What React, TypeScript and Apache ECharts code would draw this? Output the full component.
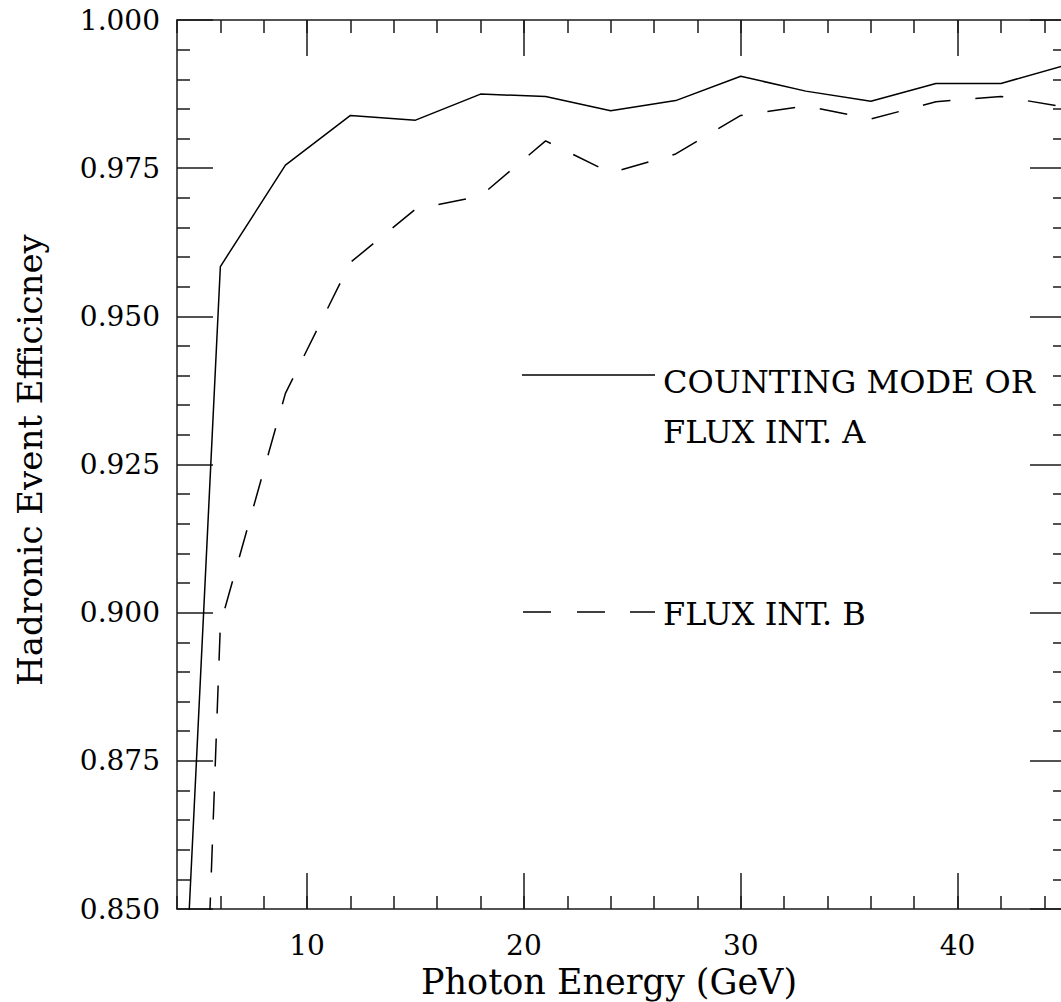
import React, { useEffect, useRef } from 'react';
import * as echarts from 'echarts';

// Photon energy (GeV) sample points
const energies = [3, 6, 9, 12, 15, 18, 21, 24, 27, 30, 33, 36, 39, 42, 45];
// Solid curve: COUNTING MODE OR FLUX INT. A
const countingModeA = [0.7316, 0.9584, 0.9755, 0.9839, 0.9831, 0.9875, 0.9871, 0.9847, 0.9864, 0.9905, 0.988, 0.9863, 0.9893, 0.9893, 0.9924];
// Dashed curve: FLUX INT. B
const fluxIntB = [0.597, 0.898, 0.937, 0.9591, 0.9681, 0.9703, 0.9796, 0.9742, 0.9774, 0.9839, 0.9855, 0.9833, 0.9862, 0.9871, 0.9853];

const xMajorTicks = [10, 20, 30, 40];
const xLabels = ['10', '20', '30', '40'];

const xTitle = 'Photon Energy (GeV)';
const yTitle = 'Hadronic Event Efficicney';
const legendA1 = 'COUNTING MODE OR';
const legendA2 = 'FLUX INT. A';
const legendB = 'FLUX INT. B';

export default function App() {
  const ref = useRef<HTMLDivElement>(null);
  useEffect(() => {
    const chart = echarts.init(ref.current as HTMLDivElement, null, { renderer: 'svg' });
    const axisColor = '#1a1a1a';
    const font = '"DejaVu Serif", serif';
    const lw = 1.5;
    const xBase = { type: 'value', min: 4, max: 45, gridIndex: 0, splitLine: { show: false } };
    const minorX = (pos: string, labels: boolean) => ({
      ...xBase,
      position: pos,
      interval: 2,
      axisLine: { show: true, onZero: false, lineStyle: { color: axisColor, width: lw } },
      axisTick: { show: true, inside: true, length: 13, lineStyle: { color: axisColor, width: lw } },
      axisLabel: labels
        ? {
            show: true,
            formatter: (v: number) => {
              const i = xMajorTicks.indexOf(v);
              return i >= 0 ? xLabels[i] : '';
            },
            fontFamily: font,
            fontSize: 28,
            color: '#000',
            margin: 22,
          }
        : { show: false },
    });
    const majorX = (pos: string) => ({
      ...xBase,
      position: pos,
      axisLine: { show: false, onZero: false },
      axisTick: { show: true, inside: true, length: 36, customValues: xMajorTicks, lineStyle: { color: axisColor, width: lw } },
      axisLabel: { show: false },
    });
    const yAx = (pos: string, labels: boolean) => ({
      type: 'value',
      position: pos,
      min: 0.85,
      max: 1.0,
      interval: 0.025,
      splitLine: { show: false },
      axisLine: { show: true, onZero: false, lineStyle: { color: axisColor, width: lw } },
      axisTick: { show: true, inside: true, length: 36, lineStyle: { color: axisColor, width: lw } },
      minorTick: { show: true, splitNumber: 5, length: 13, lineStyle: { color: axisColor, width: lw } },
      axisLabel: labels
        ? { show: true, formatter: (v: number) => v.toFixed(3), fontFamily: font, fontSize: 28, color: '#000', margin: 17 }
        : { show: false },
    });
    const toPairs = (ys: number[]) => energies.map((x, i) => [x, ys[i]]);
    const legendDash = (x1: number, x2: number) => ({
      type: 'line',
      shape: { x1, y1: 612, x2, y2: 612 },
      style: { stroke: '#000', lineWidth: lw },
    });

    chart.setOption({
      animation: false,
      backgroundColor: '#fff',
      grid: { left: 177, top: 20, width: 889, height: 889, containLabel: false, outerBoundsMode: 'none' },
      xAxis: [minorX('bottom', true), majorX('bottom'), minorX('top', false), majorX('top')],
      yAxis: [yAx('left', true), yAx('right', false)],
      series: [
        {
          type: 'line',
          name: legendA1,
          data: toPairs(countingModeA),
          xAxisIndex: 0,
          yAxisIndex: 0,
          symbol: 'none',
          clip: true,
          lineStyle: { color: '#000', width: lw },
        },
        {
          type: 'line',
          name: legendB,
          data: toPairs(fluxIntB),
          xAxisIndex: 0,
          yAxisIndex: 0,
          symbol: 'none',
          clip: true,
          lineStyle: { color: '#000', width: lw, type: [28, 25] },
        },
      ],
      graphic: [
        { type: 'line', shape: { x1: 522, y1: 375, x2: 655, y2: 375 }, style: { stroke: '#000', lineWidth: lw } },
        { type: 'text', x: 663, y: 382, style: { text: legendA1, font: `32px ${font}`, fill: '#000', align: 'left', verticalAlign: 'middle' } },
        { type: 'text', x: 663, y: 432, style: { text: legendA2, font: `32px ${font}`, fill: '#000', align: 'left', verticalAlign: 'middle' } },
        legendDash(523, 551),
        legendDash(577, 605),
        legendDash(630, 655),
        { type: 'text', x: 663, y: 614, style: { text: legendB, font: `32px ${font}`, fill: '#000', align: 'left', verticalAlign: 'middle' } },
        { type: 'text', x: 609, y: 982, style: { text: xTitle, font: `35px ${font}`, fill: '#000', align: 'center', verticalAlign: 'middle' } },
        { type: 'text', x: 30, y: 460, rotation: Math.PI / 2, style: { text: yTitle, font: `34px ${font}`, fill: '#000', align: 'center', verticalAlign: 'middle' } },
      ],
    });
    return () => chart.dispose();
  }, []);
  return <div ref={ref} style={{ position: 'absolute', left: 0, top: 0, width: 1061, height: 1002 }} />;
}
